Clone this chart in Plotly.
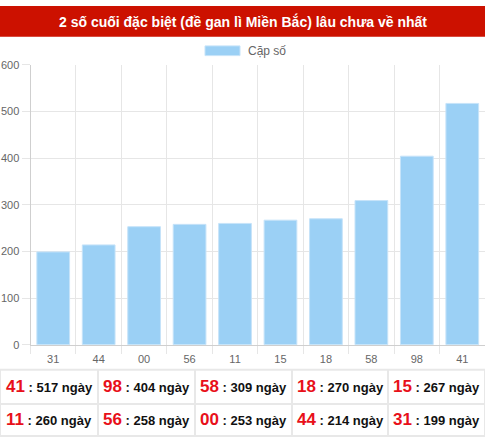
import plotly.graph_objects as go

# data
pairs = ["31", "44", "00", "56", "11", "15", "18", "58", "98", "41"]
days = [199, 214, 253, 258, 260, 267, 270, 309, 404, 517]
y_ticks = [0, 100, 200, 300, 400, 500, 600]

title_text = "2 số cuối đặc biệt (đề gan lì Miền Bắc) lâu chưa về nhất"
legend_text = "Cặp số"
unit = "ngày"

W, H = 485, 442
FONT = "Liberation Sans, Arial, sans-serif"
GRID = "#e6e6e6"


def py(px):
    # pixel from top -> paper y
    return 1 - px / H


def pxx(px):
    return px / W


idx = list(range(len(pairs)))

fig = go.Figure()
fig.add_trace(go.Bar(
    x=idx, y=days, name=legend_text,
    marker=dict(color="#9bd0f5", line=dict(color="#c6e3f9", width=1)),
    showlegend=False,
))

fig.update_layout(
    width=W, height=H,
    margin=dict(l=0, r=0, t=0, b=0),
    paper_bgcolor="white", plot_bgcolor="white",
    font=dict(family=FONT, size=11, color="#666666"),
    bargap=0.28,
    xaxis=dict(
        domain=[pxx(30.5), 1.0],
        range=[-0.5, len(pairs) - 0.5],
        tickmode="array", tickvals=idx, ticktext=pairs,
        showgrid=False, zeroline=False,
        ticks="outside", ticklen=4, tickcolor="rgba(0,0,0,0)",
        showline=True, linecolor="#cfcfcf", linewidth=1,
        tickfont=dict(size=11, color="#666666"),
        minor=dict(tickmode="array",
                   tickvals=[i - 0.5 for i in idx] + [len(pairs) - 0.5],
                   showgrid=True, gridcolor=GRID, gridwidth=1,
                   ticks="outside", ticklen=8, tickcolor=GRID),
        fixedrange=True,
    ),
    yaxis=dict(
        domain=[py(348.3), py(60.3)],
        range=[0, 600],
        tickmode="array", tickvals=y_ticks,
        showgrid=True, gridcolor=GRID, gridwidth=1,
        zeroline=False,
        ticks="outside", ticklen=8, tickcolor=GRID,
        showline=True, linecolor="#cfcfcf", linewidth=1,
        tickfont=dict(size=11, color="#666666"),
        fixedrange=True,
    ),
)

shapes = []
annotations = []

# red header bar
shapes.append(dict(type="rect", xref="paper", yref="paper",
                   x0=0, x1=1, y0=py(31.5), y1=1,
                   fillcolor="#cc1100", line=dict(width=0), layer="below"))
annotations.append(dict(xref="paper", yref="paper", x=0.5, y=py(15.5),
                        text="<b>" + title_text + "</b>", showarrow=False,
                        xanchor="center", yanchor="middle",
                        font=dict(family=FONT, size=14, color="white")))

# legend box + label
shapes.append(dict(type="rect", xref="paper", yref="paper",
                   x0=pxx(205), x1=pxx(240), y0=py(51), y1=py(41),
                   fillcolor="#9bd0f5", line=dict(color="#c6e3f9", width=1)))
annotations.append(dict(xref="paper", yref="paper", x=pxx(246), y=py(46),
                        text=legend_text, showarrow=False,
                        xanchor="left", yanchor="middle",
                        font=dict(family=FONT, size=12, color="#666666")))

# summary table below chart, sorted by days descending
order = sorted(range(len(pairs)), key=lambda i: days[i], reverse=True)
cols = 5
col_edges = [0, 98, 195, 292, 388, 485]
row_edges = [374, 409, 442]
for k, i in enumerate(order):
    r, c = divmod(k, cols)
    xc = (col_edges[c] + col_edges[c + 1]) / 2
    yc = (row_edges[r] + row_edges[r + 1]) / 2
    txt = ("<span style='font-size:17px;color:#e8101a'><b>%s</b></span>"
           "<b> : %d %s</b>" % (pairs[i], days[i], unit))
    annotations.append(dict(xref="paper", yref="paper", x=pxx(xc), y=py(yc),
                            text=txt, showarrow=False,
                            xanchor="center", yanchor="middle",
                            font=dict(family=FONT, size=13, color="#111111")))

BORDER = "#e8e8e8"
for ry in row_edges:
    shapes.append(dict(type="line", xref="paper", yref="paper",
                       x0=0, x1=1, y0=py(ry), y1=py(ry),
                       line=dict(color=BORDER, width=2)))
for cx in col_edges:
    shapes.append(dict(type="line", xref="paper", yref="paper",
                       x0=pxx(cx), x1=pxx(cx), y0=py(row_edges[0]), y1=py(row_edges[-1]),
                       line=dict(color=BORDER, width=2)))

fig.update_layout(shapes=shapes, annotations=annotations)

# page body has a default margin; drop it so the figure fills the window
fig.write_html("out.html", config={"displayModeBar": False},
               post_script="document.body.style.margin='0';document.body.style.overflow='hidden';")
